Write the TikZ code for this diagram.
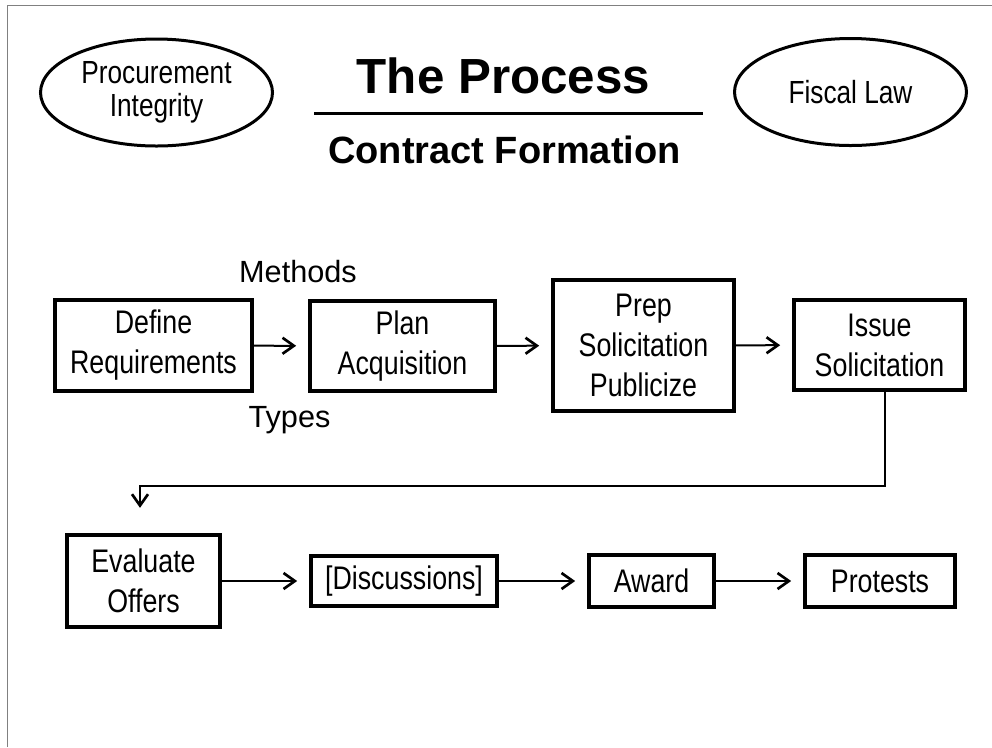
\documentclass[tikz,border=0pt]{standalone}
\usepackage{fontspec}
\setmainfont{Liberation Sans}
\newfontfamily\narrowfont{Liberation Sans}[FakeStretch=0.82]
\usepackage{pgf,tikz}
\usetikzlibrary{shapes.geometric,arrows.meta}

\begin{document}
\begin{tikzpicture}[x=0.75pt,y=-0.75pt,
		box/.style={draw,line width=2.75pt,inner sep=0pt,align=center,font=\narrowfont\fontsize{24.5}{30}\selectfont},
		oval/.style={draw,ellipse,line width=2.25pt,inner sep=0pt,minimum width=174pt,minimum height=80.25pt,align=center,font=\narrowfont\fontsize{24}{25}\selectfont},
		arr/.style={line width=1.5pt,-{Straight Barb[length=8.5pt,width=12pt,line width=2pt]},shorten >=9pt},
		lbl/.style={anchor=base,font=\fontsize{23}{24}\selectfont}]
		\useasboundingbox (0,0) rectangle (992,747);
		\draw[gray,line width=0.75pt] (7,747) -- (7,5) -- (992,5);

		\node[oval] (integrity) at (156.5,92.5) {Procurement\\Integrity};
		\node[oval] (fiscal) at (850.5,92) {Fiscal Law};
		\node[anchor=base,font=\fontsize{37}{44}\selectfont\bfseries] (title) at (503.5,93) {The Process};
		\draw[line width=2.25pt] (314,113) -- (703,113);
		\node[anchor=base,font=\fontsize{28.5}{34}\selectfont\bfseries] (subtitle) at (504.5,163) {Contract Formation};

		\node[box,minimum width=147.75pt,minimum height=68.25pt] (define) at (153.5,345.5) {Define\\Requirements};
		\node[box,minimum width=138.75pt,minimum height=67.5pt] (plan) at (402.5,346) {Plan\\Acquisition};
		\node[box,minimum width=135.75pt,minimum height=98.25pt] (prep) at (643.5,345.5) {Prep\\Solicitation\\Publicize};
		\node[box,minimum width=128.25pt,minimum height=67.5pt] (issue) at (879.5,345) {Issue\\Solicitation};
		\node[lbl] (methods) at (298,282) {Methods};
		\node[lbl] (types) at (289.5,427) {Types};

		\node[box,minimum width=114.75pt,minimum height=69pt] (evaluate) at (143.5,581) {Evaluate\\Offers};
		\node[box,minimum width=139.5pt,minimum height=37.5pt] (discuss) at (404,581) {[Discussions]};
		\node[box,minimum width=93.75pt,minimum height=39pt] (award) at (651.5,581) {Award};
		\node[box,minimum width=112.5pt,minimum height=39pt] (protests) at (880,581) {Protests};

		\draw[arr] (define) -- (plan);
		\draw[arr] (plan) -- (prep);
		\draw[arr] (prep) -- (issue);

		\coordinate (bend) at (140,486);
		\draw[arr,shorten >=19pt] ([xshift=4pt]issue.south) |- (bend) -- (bend |- evaluate.north);

		\draw[arr] (evaluate) -- (discuss);
		\draw[arr] (discuss) -- (award);
		\draw[arr] (award) -- (protests);

	\end{tikzpicture}
\end{document}
